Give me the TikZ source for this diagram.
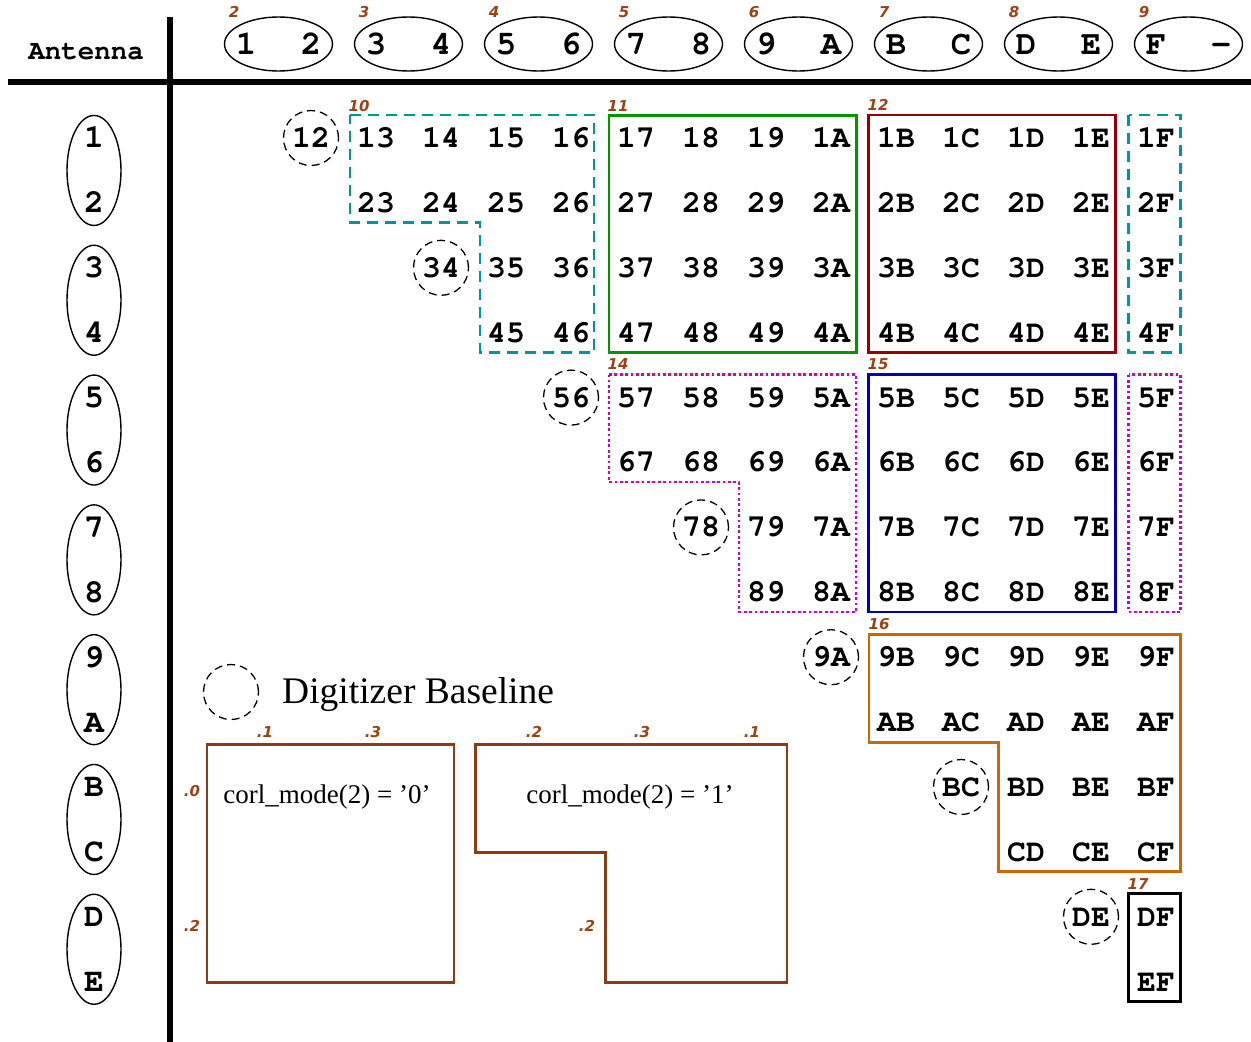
\documentclass[tikz,border=0pt]{standalone}
\usepackage[T1,TU]{fontenc}
\usepackage{fontspec}
\setmainfont{Liberation Serif}
\newfontfamily\lblfont{DejaVu Sans}
\usetikzlibrary{shapes.geometric}
\definecolor{tealc}{RGB}{0,150,150}
\definecolor{greenc}{RGB}{0,150,0}
\definecolor{redc}{RGB}{150,0,0}
\definecolor{bluec}{RGB}{0,0,180}
\definecolor{magc}{RGB}{200,0,200}
\definecolor{orangec}{RGB}{204,102,0}
\definecolor{brownbox}{RGB}{140,60,20}
\definecolor{lblbrown}{RGB}{155,65,20}
\newcommand\monob[1]{\fontencoding{T1}\fontfamily{pcr}\fontseries{b}\fontshape{n}\fontsize{#1}{#1}\selectfont}
\newcommand\hexd[1]{\ifcase#1 0\or 1\or 2\or 3\or 4\or 5\or 6\or 7\or 8\or 9\or A\or B\or C\or D\or E\or F\or -\fi}
\tikzset{
  cell/.style={font=\monob{31.5},inner sep=0pt,text height=18.9pt,text depth=0pt},
  base/.style={cell,circle,draw,dash pattern=on 8pt off 5pt,line width=1.3pt,minimum size=55pt},
  hdr/.style={font=\monob{34},inner sep=0pt,text height=20.4pt,text depth=0pt},
  vtx/.style={font=\monob{33},inner sep=0pt,text height=19.8pt,text depth=0pt},
  hell/.style={ellipse,draw,line width=1.4pt,minimum width=108pt,minimum height=54pt,inner sep=0pt},
  vell/.style={ellipse,draw,line width=1.4pt,minimum width=54pt,minimum height=110pt,inner sep=0pt},
  lbl/.style={font=\lblfont\bfseries\itshape\fontsize{15}{15}\selectfont,text=lblbrown,inner sep=0pt},
  grp/.style={line width=2.5pt,line join=miter},
  tealbox/.style={grp,draw=tealc,dash pattern=on 11pt off 7pt},
  magbox/.style={grp,draw=magc,dash pattern=on 2.7pt off 2.7pt,line width=2.7pt},
  brownb/.style={line width=2.5pt,draw=brownbox,line join=miter},
  serif/.style={inner sep=0pt}
}
\begin{document}
\begin{tikzpicture}[x=1pt,y=-1pt]
\useasboundingbox (0,0) rectangle (1251,1042);
% axes
\draw[line width=6pt] (170,17) -- (170,1042);
\draw[line width=5.5pt] (8,82) -- (1251,82);
\node[font=\monob{27.5},inner sep=0pt,text height=16.5pt,text depth=0pt] (ant) at (86,51) {Antenna};
% header
\foreach \k in {1,...,16}{
  \pgfmathsetmacro\xx{311+(\k-2)*65}
  \node[hdr] (h\k) at (\xx,44) {\hexd{\k}};
}
\foreach \p in {1,...,8}{
  \pgfmathsetmacro\xx{311+(2*\p-2.5)*65}
  \pgfmathsetmacro\lx{\xx-44.5}
  \pgfmathtruncatemacro\lab{\p+1}
  \node[hell] (he\p) at (\xx,44) {};
  \node[lbl] (hl\p) at (\lx,12) {\lab};
}
% left column
\foreach \k in {1,...,14}{
  \pgfmathsetmacro\yy{138+(\k-1)*64.9}
  \node[vtx] (v\k) at (94,\yy) {\hexd{\k}};
}
\foreach \p in {1,...,7}{
  \pgfmathsetmacro\yy{138+(2*\p-1.5)*64.9}
  \node[vell] (ve\p) at (94,\yy) {};
}
% cells
\foreach \ri in {1,...,14}{
  \foreach \ci in {2,...,15}{
    \ifnum\ci>\ri
      \pgfmathsetmacro\xx{311+(\ci-2)*65}
      \pgfmathsetmacro\yy{138+(\ri-1)*64.9}
      \pgfmathtruncatemacro\isb{((\ci-\ri)==1)*(mod(\ri,2))}
      \ifnum\isb=1
        \node[base] (n\ri-\ci) at (\xx,\yy) {\hexd{\ri}\hexd{\ci}};
      \else
        \node[cell] (n\ri-\ci) at (\xx,\yy) {\hexd{\ri}\hexd{\ci}};
      \fi
    \fi
  }
}
% group boxes
\draw[tealbox] (350,115) -- (594,115) -- (594,352.5) -- (480,352.5) -- (480,222.5) -- (350,222.5) -- cycle;
\draw[grp,draw=greenc] (609,115.5) rectangle (856.5,352.5);
\draw[grp,draw=redc] (868.5,115) rectangle (1115.5,352.5);
\draw[tealbox] (1128.5,115) rectangle (1180.5,352.5);
\draw[magbox] (609,374.5) -- (856,374.5) -- (856,612) -- (739,612) -- (739,482) -- (609,482) -- cycle;
\draw[grp,draw=bluec] (868.5,374.5) rectangle (1115.5,612);
\draw[magbox] (1128.5,374.5) rectangle (1180.5,612);
\draw[grp,draw=orangec] (869,634.5) -- (1180.5,634.5) -- (1180.5,871.5) -- (998.5,871.5) -- (998.5,742.5) -- (869,742.5) -- cycle;
\draw[grp,line width=3pt,draw=black] (1128.5,893.5) rectangle (1180.5,1001.5);
\node[lbl] (g10) at (359,106) {10};
\node[lbl] (g11) at (618,106) {11};
\node[lbl] (g12) at (878,105) {12};
\node[lbl] (g14) at (618,364) {14};
\node[lbl] (g15) at (878,364) {15};
\node[lbl] (g16) at (879,624) {16};
\node[lbl] (g17) at (1138,884) {17};
% legend
\node[base] (leg) at (231,692) {};
\node[serif,anchor=base west,font=\fontsize{37.5}{37.5}\selectfont] (legt) at (282,703) {Digitizer Baseline};
% mode boxes
\draw[brownb] (207,744.5) rectangle (454,982.5);
\draw[brownb] (475.5,744.5) -- (787,744.5) -- (787,982.5) -- (605.5,982.5) -- (605.5,852.5) -- (475.5,852.5) -- cycle;
\node[serif,anchor=base,font=\fontsize{27}{27}\selectfont] (m0) at (327,803) {corl\_mode(2) = ’0’};
\node[serif,anchor=base,font=\fontsize{27}{27}\selectfont] (m1) at (630,803) {corl\_mode(2) = ’1’};
\node[lbl] (a1) at (265,732) {.1};
\node[lbl] (a2) at (373,732) {.3};
\node[lbl] (a3) at (192,791) {.0};
\node[lbl] (a4) at (192,926) {.2};
\node[lbl] (b1) at (534,732) {.2};
\node[lbl] (b2) at (642,732) {.3};
\node[lbl] (b3) at (752,732) {.1};
\node[lbl] (b4) at (587,926) {.2};
\end{tikzpicture}
\end{document}
